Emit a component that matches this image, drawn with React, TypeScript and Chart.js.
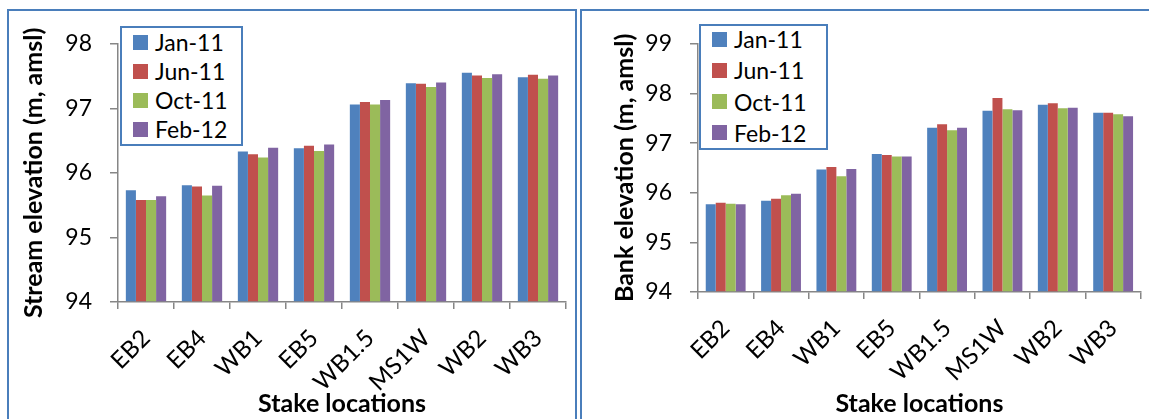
import React, { useEffect, useRef } from "react";
import { Chart, registerables } from "chart.js";

Chart.register(...registerables);

// ---------- data ----------
const categories = ["EB2", "EB4", "WB1", "EB5", "WB1.5", "MS1W", "WB2", "WB3"];
const seriesLabels = ["Jan-11", "Jun-11", "Oct-11", "Feb-12"];
const seriesColors = ["#4F81BD", "#C0504D", "#9BBB59", "#8064A2"];

const streamJan11 = [95.73, 95.81, 96.33, 96.38, 97.06, 97.39, 97.55, 97.48];
const streamJun11 = [95.58, 95.79, 96.29, 96.42, 97.1, 97.38, 97.51, 97.52];
const streamOct11 = [95.58, 95.65, 96.24, 96.34, 97.06, 97.33, 97.47, 97.46];
const streamFeb12 = [95.64, 95.8, 96.39, 96.44, 97.13, 97.4, 97.53, 97.51];

const bankJan11 = [95.77, 95.84, 96.47, 96.78, 97.31, 97.65, 97.77, 97.61];
const bankJun11 = [95.8, 95.88, 96.52, 96.76, 97.38, 97.91, 97.8, 97.61];
const bankOct11 = [95.78, 95.95, 96.33, 96.73, 97.26, 97.68, 97.7, 97.58];
const bankFeb12 = [95.77, 95.98, 96.48, 96.73, 97.31, 97.66, 97.71, 97.54];

const streamTicks = [94, 95, 96, 97, 98];
const bankTicks = [94, 95, 96, 97, 98, 99];

const streamTitle = "Stream elevation (m, amsl)";
const bankTitle = "Bank elevation (m, amsl)";
const xTitle = "Stake locations";

// ---------- styles ----------
const FONT = "Lato, 'Open Sans', sans-serif";
const AXIS = "#868686";
const FRAME = "#4A7EBB";

type PanelProps = {
  canvasLeft: number;
  canvasTop: number;
  canvasWidth: number;
  canvasHeight: number;
  series: number[][];
  ticks: number[];
  yTitle: string;
  padTop: number;
  padRight: number;
  yAxisWidth: number;
  xAxisHeight: number;
  yTitlePad: number;
  legend: { left: number; top: number; width: number; height: number; first: number; row: number };
};

function Panel(p: PanelProps) {
  const ref = useRef<HTMLCanvasElement | null>(null);
  useEffect(() => {
    if (!ref.current) return;
    const yMin = p.ticks[0];
    const yMax = p.ticks[p.ticks.length - 1];
    const chart = new Chart(ref.current, {
      type: "bar",
      data: {
        labels: categories,
        datasets: p.series.map((vals, i) => ({
          label: seriesLabels[i],
          data: vals,
          backgroundColor: seriesColors[i],
          borderWidth: 0,
          base: yMin,
          categoryPercentage: 0.72,
          barPercentage: 1,
        })),
      },
      options: {
        animation: false,
        responsive: false,
        maintainAspectRatio: false,
        devicePixelRatio: 1,
        layout: { padding: { top: p.padTop, right: p.padRight, left: 0, bottom: 0 } },
        plugins: { legend: { display: false }, tooltip: { enabled: false } },
        scales: {
          x: {
            grid: {
              display: true,
              drawOnChartArea: false,
              drawTicks: true,
              tickLength: 7,
              color: AXIS,
              lineWidth: 1.5,
              offset: true,
            },
            border: { color: AXIS, width: 1.5 },
            ticks: {
              maxRotation: 45,
              minRotation: 45,
              autoSkip: false,
              font: { family: FONT, size: 24 },
              color: "#000",
              padding: 15,
            },
            title: {
              display: true,
              text: xTitle,
              font: { family: FONT, size: 25, weight: "bold" },
              color: "#000",
              padding: { top: 0, bottom: 0 },
            },
            afterFit: (s: any) => {
              s.height = p.xAxisHeight;
            },
          },
          y: {
            min: yMin,
            max: yMax,
            afterBuildTicks: (s: any) => {
              s.ticks = p.ticks.map((v) => ({ value: v }));
            },
            grid: {
              drawOnChartArea: false,
              drawTicks: true,
              tickLength: 8,
              color: AXIS,
              lineWidth: 1.5,
            },
            border: { color: AXIS, width: 1.5 },
            ticks: {
              font: { family: FONT, size: 23 },
              color: "#000",
              padding: 18,
            },
            title: {
              display: true,
              text: p.yTitle,
              font: { family: FONT, size: 25, weight: "bold" },
              color: "#000",
              padding: { top: p.yTitlePad, bottom: 0 },
            },
            afterFit: (s: any) => {
              s.width = p.yAxisWidth;
            },
          },
        },
      },
    });
    return () => chart.destroy();
  }, []);

  const lg = p.legend;
  return (
    <>
      <canvas
        ref={ref}
        width={p.canvasWidth}
        height={p.canvasHeight}
        style={{
          position: "absolute",
          left: p.canvasLeft,
          top: p.canvasTop,
          width: p.canvasWidth,
          height: p.canvasHeight,
        }}
      />
      <div
        style={{
          position: "absolute",
          left: lg.left,
          top: lg.top,
          width: lg.width,
          height: lg.height,
          boxSizing: "border-box",
          border: `2px solid ${FRAME}`,
          background: "#fff",
        }}
      >
        {seriesLabels.map((name, i) => (
          <div
            key={name}
            style={{
              position: "absolute",
              left: 11,
              top: lg.first + i * lg.row - 2 - 15,
              height: 30,
              display: "flex",
              alignItems: "center",
              fontFamily: FONT,
              fontSize: 23,
              color: "#000",
              whiteSpace: "nowrap",
            }}
          >
            <span
              style={{
                display: "inline-block",
                width: 15,
                height: 15,
                background: seriesColors[i],
                marginRight: 7,
              }}
            />
            {name}
          </div>
        ))}
      </div>
    </>
  );
}

export default function App() {
  return (
    <div
      style={{
        position: "fixed",
        left: 0,
        top: 0,
        width: 1149,
        height: 419,
        overflow: "hidden",
        background: "#fff",
      }}
    >
      <div
        style={{
          position: "absolute",
          left: 7,
          top: 9,
          width: 570,
          height: 430,
          boxSizing: "border-box",
          border: `2px solid ${FRAME}`,
        }}
      />
      <div
        style={{
          position: "absolute",
          left: 580,
          top: 9,
          width: 600,
          height: 430,
          boxSizing: "border-box",
          border: `2px solid ${FRAME}`,
        }}
      />
      <Panel
        canvasLeft={9}
        canvasTop={12}
        canvasWidth={566}
        canvasHeight={407}
        series={[streamJan11, streamJun11, streamOct11, streamFeb12]}
        ticks={streamTicks}
        yTitle={streamTitle}
        padTop={18}
        padRight={9}
        yAxisWidth={109}
        xAxisHeight={117}
        yTitlePad={10}
        legend={{ left: 120, top: 26, width: 123, height: 120, first: 16, row: 29 }}
      />
      <Panel
        canvasLeft={583}
        canvasTop={12}
        canvasWidth={566}
        canvasHeight={407}
        series={[bankJan11, bankJun11, bankOct11, bankFeb12]}
        ticks={bankTicks}
        yTitle={bankTitle}
        padTop={18}
        padRight={8}
        yAxisWidth={115}
        xAxisHeight={127}
        yTitlePad={27}
        legend={{ left: 699, top: 24, width: 129, height: 126, first: 15, row: 31.3 }}
      />
    </div>
  );
}
